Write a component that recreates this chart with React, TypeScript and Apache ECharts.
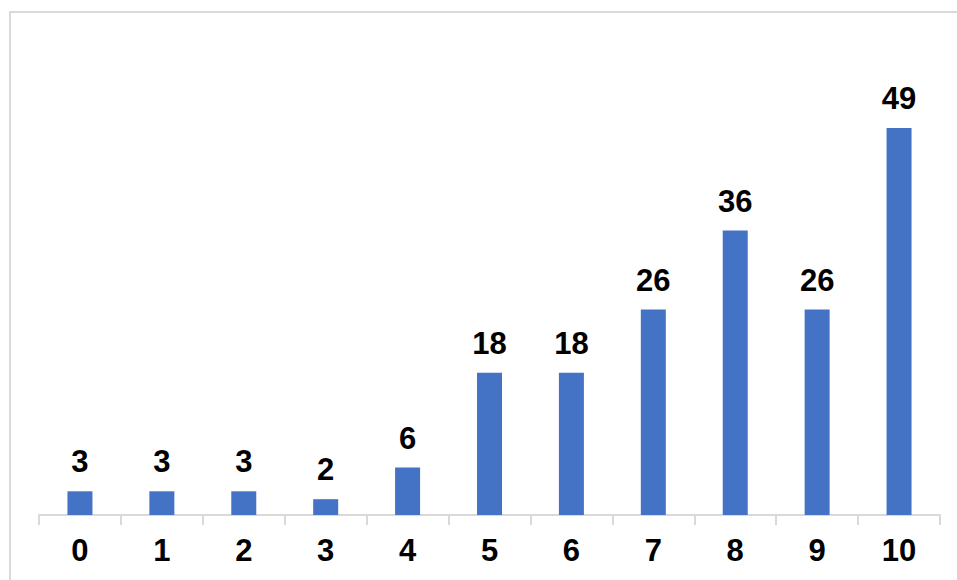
import React, { useEffect, useRef } from "react";
import * as echarts from "echarts";

const categories = ["0", "1", "2", "3", "4", "5", "6", "7", "8", "9", "10"];
const values = [3, 3, 3, 2, 6, 18, 18, 26, 36, 26, 49];

export default function App() {
  const ref = useRef<HTMLDivElement>(null);
  useEffect(() => {
    if (!ref.current) return;
    const chart = echarts.init(ref.current, undefined, { renderer: "svg" });
    chart.setOption({
      animation: false,
      backgroundColor: "#ffffff",
      graphic: [
        {
          type: "rect",
          shape: { x: 10, y: 12, width: 980, height: 620 },
          style: { fill: "none", stroke: "#d9d9d9", lineWidth: 2 },
          silent: true,
        },
      ],
      grid: { left: 39, right: 17, top: 120, bottom: 65 },
      xAxis: {
        type: "category",
        data: categories,
        axisLine: { show: true, lineStyle: { color: "#d9d9d9", width: 2 } },
        axisTick: { show: true, length: 10, lineStyle: { color: "#d9d9d9", width: 2 } },
        axisLabel: {
          color: "#000000",
          fontFamily: "Liberation Sans, Arial, sans-serif",
          fontWeight: "bold",
          fontSize: 31,
          margin: 20,
        },
      },
      yAxis: {
        type: "value",
        min: 0,
        max: 50,
        show: false,
        splitLine: { show: false },
      },
      series: [
        {
          type: "bar",
          data: values,
          barWidth: 25,
          itemStyle: { color: "#4472C4" },
          label: {
            show: true,
            position: "top",
            distance: 14,
            color: "#000000",
            fontFamily: "Liberation Sans, Arial, sans-serif",
            fontWeight: "bold",
            fontSize: 31,
          },
        },
      ],
    });
    return () => chart.dispose();
  }, []);
  return (
    <div
      ref={ref}
      style={{ position: "fixed", left: 0, top: 0, width: 957, height: 580 }}
    />
  );
}
